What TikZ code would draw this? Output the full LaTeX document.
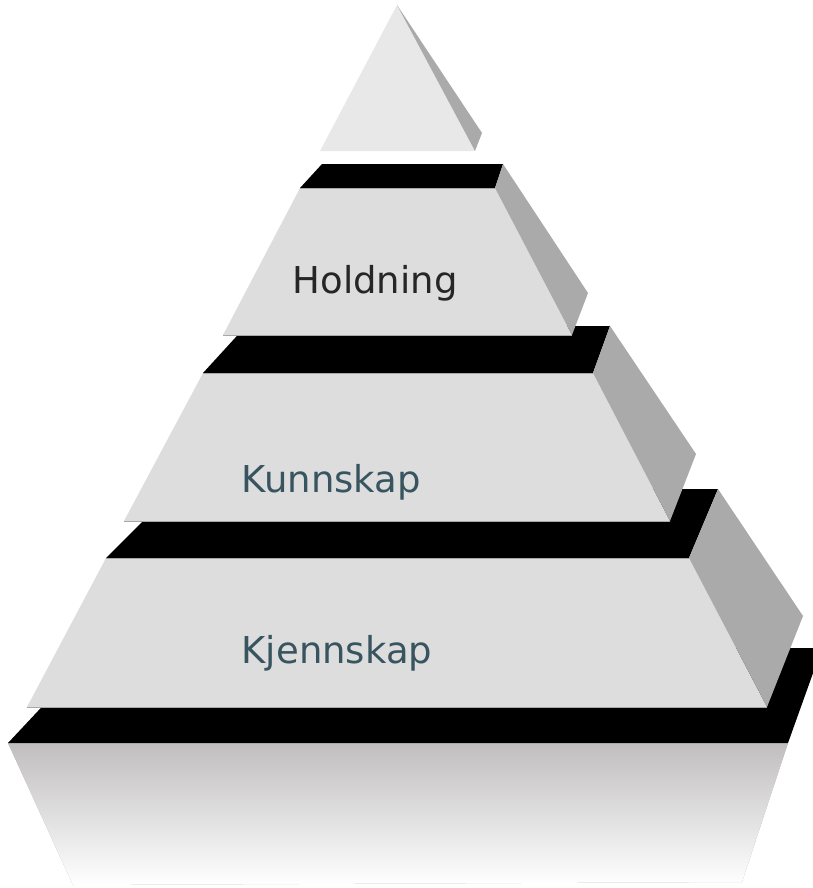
\documentclass[tikz,border=0pt]{standalone}
\usepackage{fontspec}
\setmainfont{DejaVu Sans}
\definecolor{facegray}{HTML}{DDDDDD}
\definecolor{topgray}{HTML}{E8E8E8}
\definecolor{shadegray}{HTML}{AAAAAA}
\definecolor{edgegray}{HTML}{A8A8A8}
\definecolor{reflgray}{HTML}{C0BEBF}
\definecolor{darktext}{HTML}{262626}
\definecolor{slatetext}{HTML}{37545F}
\tikzset{
  band/.style={fill=black},
  face/.style={fill=facegray},
  shade/.style={fill=shadegray},
  edgeline/.style={draw=edgegray, line width=0.9pt},
  label/.style={inner sep=0pt, anchor=base west, font=\fontsize{37}{44}\selectfont},
}
\begin{document}
\begin{tikzpicture}[x=1pt,y=-1pt]
\useasboundingbox (0,0) rectangle (813,888);
\begin{scope}
\clip (0,0) rectangle (813,888);
% reflection
\shade[top color=reflgray, bottom color=white] (8,743) -- (788,743) -- (742,882) -- (73,885) -- cycle;
% base band
\fill[band] (97,648) -- (822,648) -- (788,743) -- (8,743) -- cycle;
\draw[edgeline] (8,743.5) -- (788,743.5);
% level 4
\fill[band] (175,489) -- (718,489) -- (689,558) -- (106,558) -- cycle;
\fill[face] (106,558) -- (689,558) -- (767,707) -- (27,707) -- cycle;
\draw[edgeline] (106,558) -- (689,558);
\draw[edgeline] (27,707) -- (767,707);
\fill[shade] (718,489) -- (803,616) -- (767,707) -- (689,558) -- cycle;
% level 3
\fill[band] (246,326) -- (610,326) -- (593,373) -- (203,373) -- cycle;
\fill[face] (203,373) -- (593,373) -- (670,521) -- (124,521) -- cycle;
\draw[edgeline] (203,373) -- (593,373);
\draw[edgeline] (124,521) -- (670,521);
\fill[shade] (610,326) -- (696,454) -- (670,521) -- (593,373) -- cycle;
% level 2
\fill[band] (322,164) -- (503,164) -- (495,188) -- (300,188) -- cycle;
\fill[face] (300,188) -- (495,188) -- (572,335) -- (223,335) -- cycle;
\draw[edgeline] (300,188) -- (495,188);
\draw[edgeline] (223,335) -- (572,335);
\fill[shade] (503,164) -- (588,293) -- (572,335) -- (495,188) -- cycle;
% top
\fill[topgray] (397,5) -- (475,151) -- (320,151) -- cycle;
\fill[shade] (397,5) -- (482,133) -- (475,151) -- cycle;
\end{scope}
\node[label, text=darktext] (holdning) at (292.5,293) {Holdning};
\node[label, text=slatetext] (kunnskap) at (241.5,492) {Kunnskap};
\node[label, text=slatetext] (kjennskap) at (241.5,663) {Kjennskap};
\end{tikzpicture}
\end{document}
